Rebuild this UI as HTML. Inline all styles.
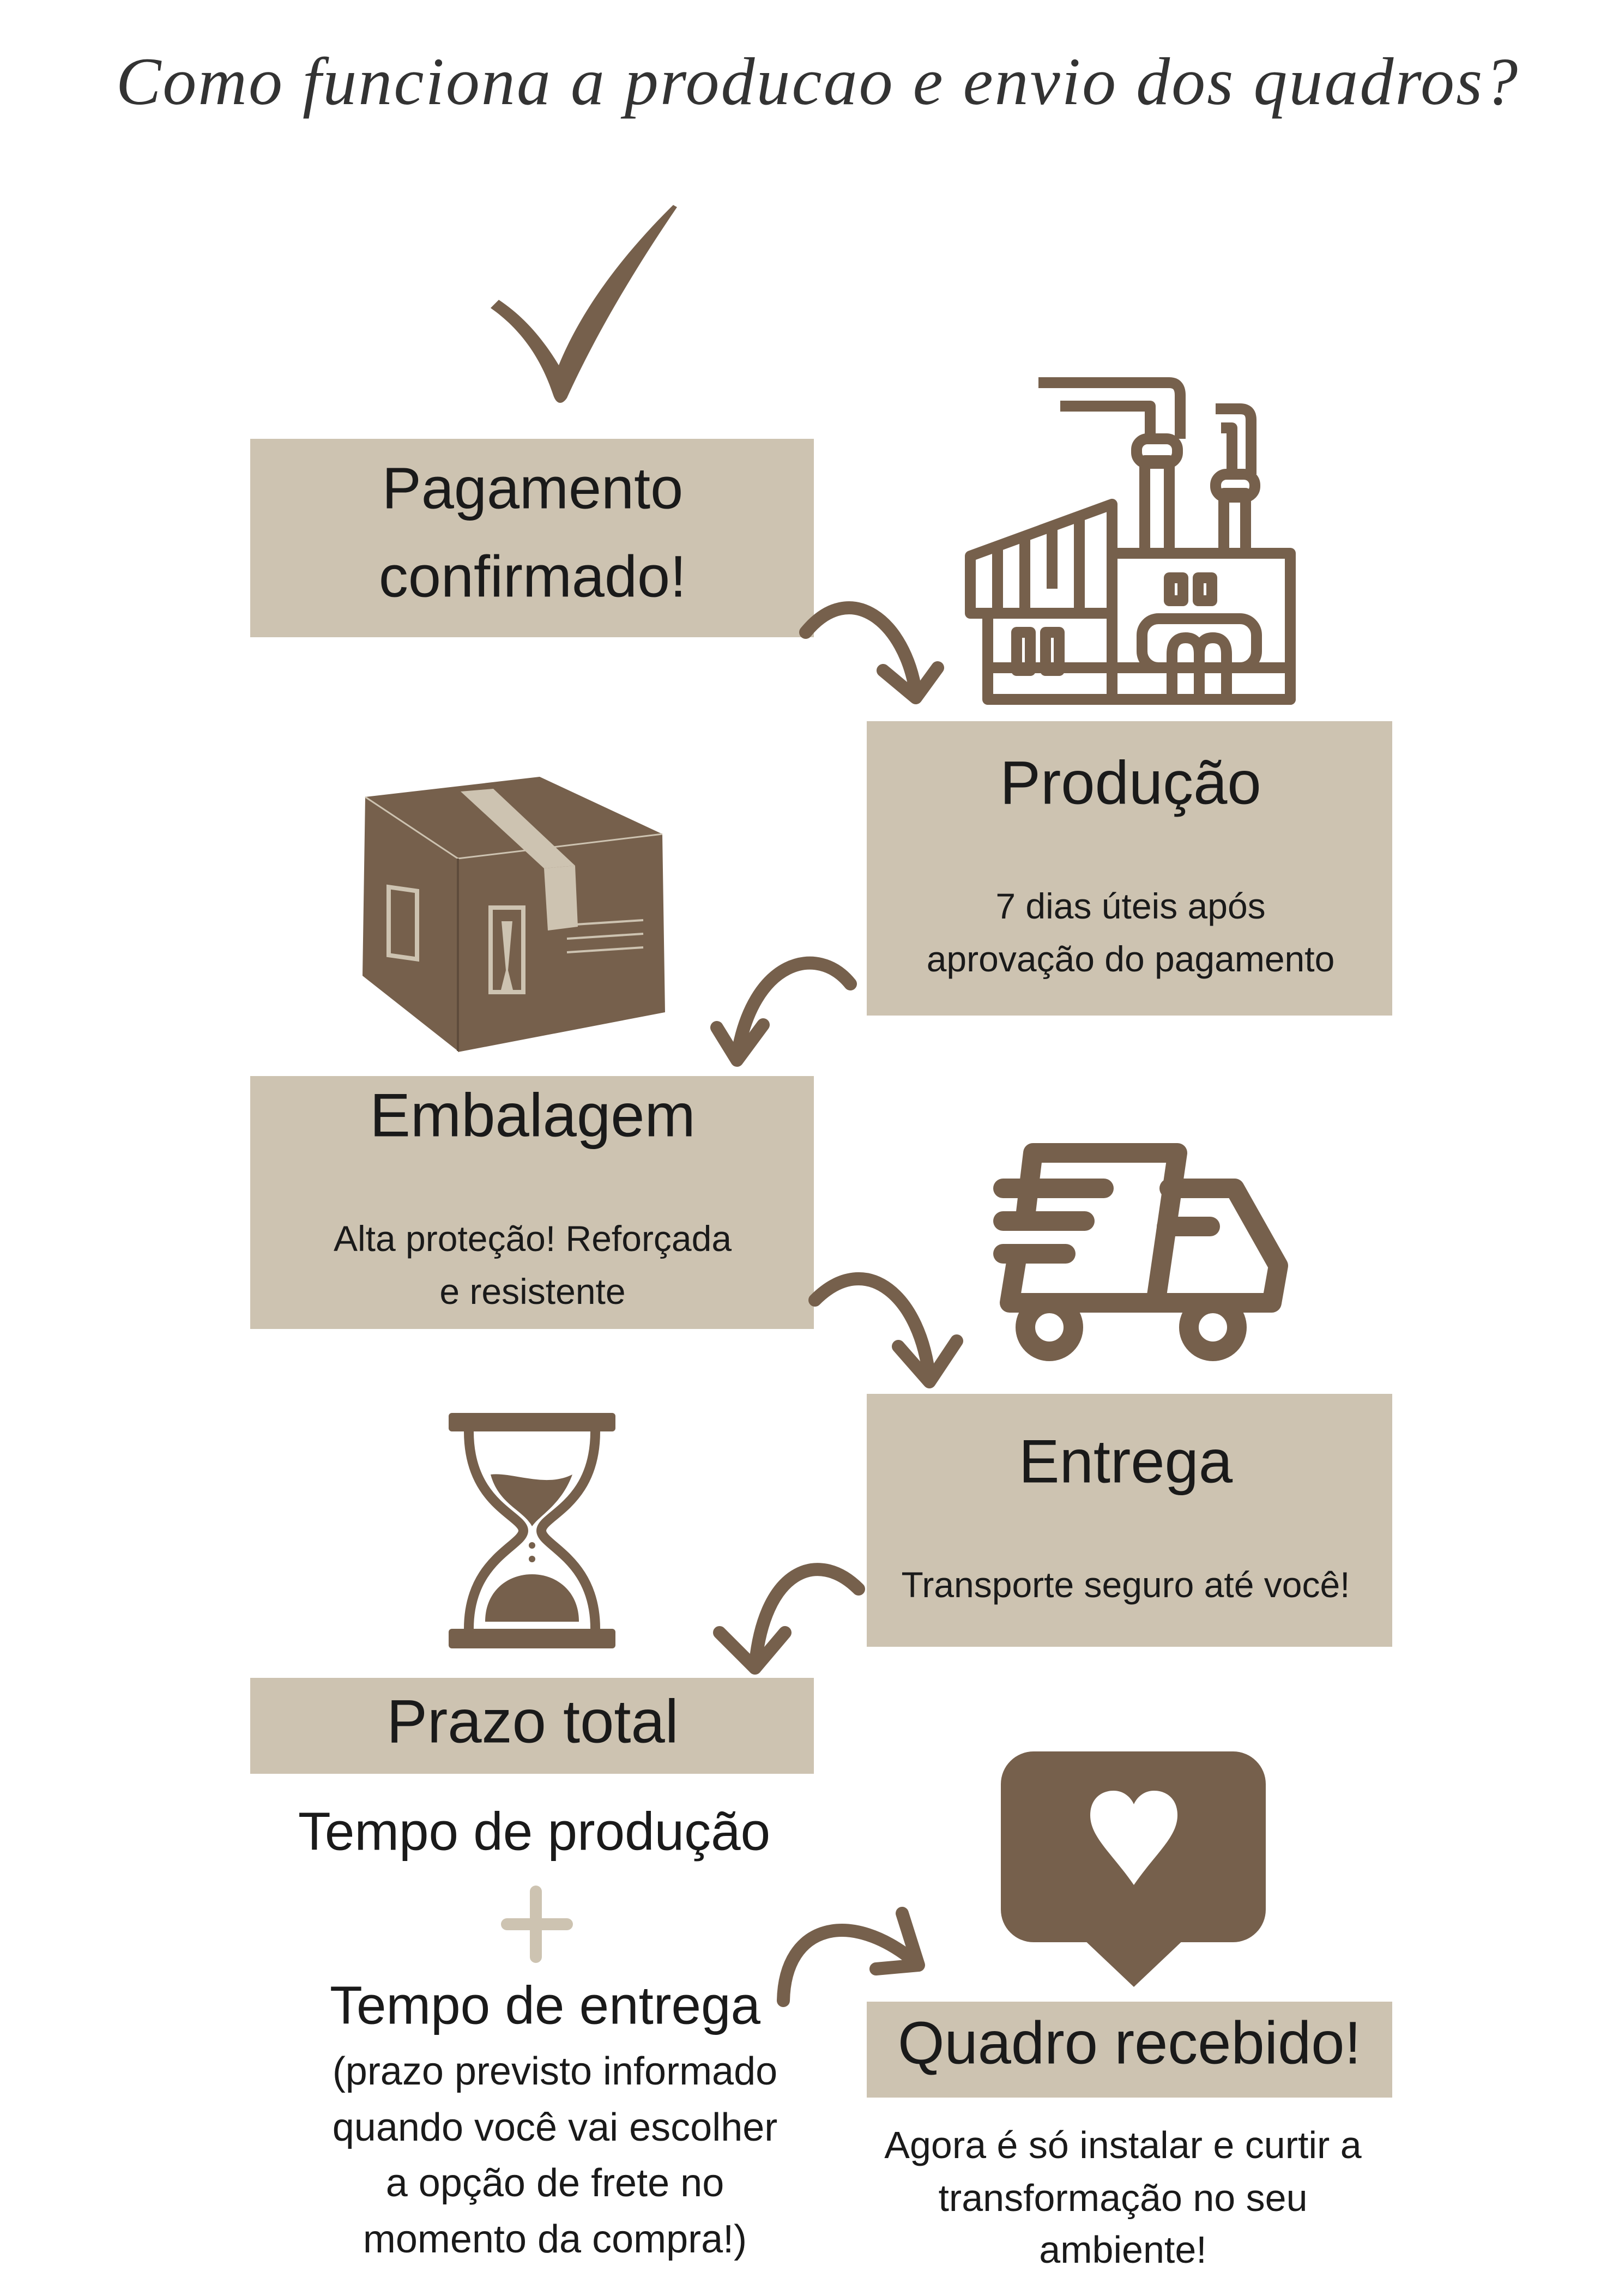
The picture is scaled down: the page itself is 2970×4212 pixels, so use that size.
<!DOCTYPE html>
<html><head><meta charset="utf-8">
<style>
html,body{margin:0;padding:0;background:#fff}
body{width:2970px;height:4212px;position:relative;overflow:hidden;font-family:"Liberation Sans",sans-serif;color:#1a1a1a}
.b{position:absolute;background:#cdc3b1}
.t{position:absolute;text-align:center;white-space:nowrap;transform:translate(-50%,-50%);font-weight:normal;letter-spacing:0px}
svg{position:absolute;left:0;top:0}
</style></head><body>
<div class="b" style="left:459px;top:805px;width:1034px;height:364px"></div>
<div class="b" style="left:1590px;top:1323px;width:964px;height:540px"></div>
<div class="b" style="left:459px;top:1974px;width:1034px;height:464px"></div>
<div class="b" style="left:1590px;top:2557px;width:964px;height:464px"></div>
<div class="b" style="left:459px;top:3078px;width:1034px;height:176px"></div>
<div class="b" style="left:1590px;top:3672px;width:964px;height:176px"></div>

<div class="t" style="left:1500px;top:150px;font-family:'Liberation Serif',serif;font-style:italic;font-size:124px;letter-spacing:3px;color:#333">Como funciona a producao e envio dos quadros?</div>

<div class="t" style="left:977px;top:895px;font-size:108px">Pagamento</div>
<div class="t" style="left:977px;top:1057px;font-size:108px">confirmado!</div>
<div class="t" style="left:2074px;top:1436px;font-size:112px">Produção</div>
<div class="t" style="left:2074px;top:1662px;font-size:66px">7 dias úteis após</div>
<div class="t" style="left:2074px;top:1759px;font-size:66px">aprovação do pagamento</div>
<div class="t" style="left:977px;top:2046px;font-size:112px">Embalagem</div>
<div class="t" style="left:977px;top:2272px;font-size:66px">Alta proteção! Reforçada</div>
<div class="t" style="left:977px;top:2369px;font-size:66px">e resistente</div>
<div class="t" style="left:2065px;top:2681px;font-size:112px">Entrega</div>
<div class="t" style="left:2065px;top:2907px;font-size:66px">Transporte seguro até você!</div>
<div class="t" style="left:977px;top:3158px;font-size:112px">Prazo total</div>
<div class="t" style="left:980px;top:3360px;font-size:98px">Tempo de produção</div>
<div class="t" style="left:1000px;top:3679px;font-size:98px">Tempo de entrega</div>
<div class="t" style="left:1018px;top:3800px;font-size:72px">(prazo previsto informado</div>
<div class="t" style="left:1018px;top:3903px;font-size:72px">quando você vai escolher</div>
<div class="t" style="left:1018px;top:4005px;font-size:72px">a opção de frete no</div>
<div class="t" style="left:1018px;top:4108px;font-size:72px">momento da compra!)</div>
<div class="t" style="left:2072px;top:3748px;font-size:110px">Quadro recebido!</div>
<div class="t" style="left:2060px;top:3935px;font-size:70px">Agora é só instalar e curtir a</div>
<div class="t" style="left:2060px;top:4032px;font-size:70px">transformação no seu</div>
<div class="t" style="left:2060px;top:4127px;font-size:70px">ambiente!</div>

<svg width="2970" height="4212" viewBox="0 0 2970 4212">
<g fill="#76604c" stroke="none">
 <path d="M1242,380 C1160,500 1090,620 1040,730 C1030,745 1020,740 1015,725 C990,650 950,600 900,565 L915,550 C960,580 995,620 1025,670 C1070,560 1150,460 1235,376 Z"/>
</g>
<g stroke="#cdc3b1" stroke-width="22" stroke-linecap="round">
 <line x1="983" y1="3470" x2="983" y2="3590"/><line x1="930" y1="3530" x2="1040" y2="3530"/>
</g>
<g fill="none" stroke="#76604c" stroke-width="24" stroke-linecap="round" stroke-linejoin="round">
 <path d="M1478,1160 C1560,1060 1660,1140 1680,1270"/>
 <path d="M1620,1230 L1680,1280 L1720,1225"/>
 <path d="M1560,1805 C1500,1730 1380,1760 1352,1940"/>
 <path d="M1315,1885 L1352,1945 L1400,1880"/>
 <path d="M1495,2385 C1590,2290 1690,2380 1705,2530"/>
 <path d="M1648,2470 L1705,2535 L1755,2460"/>
 <path d="M1575,2915 C1500,2840 1400,2880 1385,3060"/>
 <path d="M1320,2995 L1385,3060 L1440,2995"/>
 <path d="M1437,3670 C1440,3530 1560,3500 1680,3600"/>
 <path d="M1655,3510 L1685,3605 L1607,3612"/>
</g>
<g fill="none" stroke="#76604c" stroke-width="20" stroke-linejoin="round">
 <rect x="1812" y="1225" width="555" height="58"/>
 <polygon points="1780,1020 2040,925 2040,1225 1812,1225 1812,1125 1780,1125"/>
 <line x1="1780" y1="1125" x2="2040" y2="1125"/>
 <line x1="1830" y1="1005" x2="1830" y2="1125"/><line x1="1880" y1="985" x2="1880" y2="1125"/>
 <line x1="1930" y1="965" x2="1930" y2="1080"/><line x1="1980" y1="948" x2="1980" y2="1125"/>
 <rect x="2040" y="1015" width="327" height="268"/>
 <rect x="2100" y="845" width="45" height="170"/>
 <rect x="2245" y="905" width="40" height="110"/>
 <rect x="2085" y="805" width="75" height="45" rx="20"/>
 <rect x="2230" y="870" width="72" height="42" rx="20"/>
 <path d="M1905,702 L2145,702 Q2165,702 2165,725 L2165,805"/>
 <path d="M1945,745 L2110,745 L2110,805"/>
 <path d="M2230,750 L2275,750 Q2295,750 2295,770 L2295,870"/>
 <path d="M2240,785 L2260,785 L2260,870"/>
 <rect x="2145" y="1060" width="25" height="42"/><rect x="2198" y="1060" width="25" height="42"/>
 <rect x="1865" y="1160" width="25" height="70"/><rect x="1918" y="1160" width="25" height="70"/>
 <rect x="2095" y="1135" width="210" height="90" rx="30"/>
 <path d="M2150,1283 L2150,1200 Q2150,1170 2175,1170 Q2200,1170 2200,1200 L2200,1283"/>
 <path d="M2200,1200 Q2200,1170 2225,1170 Q2250,1170 2250,1200 L2250,1283"/>
</g>
<g>
 <polygon points="670,1462 990,1425 1215,1530 840,1575" fill="#76604c"/>
 <polygon points="670,1462 840,1575 840,1928 665,1790" fill="#76604c"/>
 <polygon points="840,1575 1215,1530 1220,1857 840,1930" fill="#76604c"/>
 <polyline points="670,1462 840,1575 1215,1530" fill="none" stroke="#cdc3b1" stroke-width="3"/>
 <line x1="840" y1="1575" x2="840" y2="1928" stroke="#5e4c3c" stroke-width="4"/>
 <polygon points="845,1452 905,1447 1055,1588 998,1593" fill="#cdc3b1"/>
 <polygon points="998,1593 1055,1588 1060,1700 1005,1707" fill="#cdc3b1"/>
 <rect x="713" y="1627" width="52" height="125" fill="none" stroke="#cdc3b1" stroke-width="8" transform="skewY(8) translate(0,-100)"/>
 <rect x="900" y="1805" width="60" height="155" fill="none" stroke="#cdc3b1" stroke-width="8" transform="translate(0,-140)"/>
 <path d="M920,1690 L940,1690 L932,1780 L942,1820 L918,1820 L928,1780 Z" fill="#cdc3b1"/>
 <g stroke="#cdc3b1" stroke-width="4"><line x1="1040" y1="1697" x2="1180" y2="1688"/><line x1="1040" y1="1722" x2="1180" y2="1713"/><line x1="1040" y1="1747" x2="1180" y2="1738"/></g>
</g>
<g fill="none" stroke="#76604c" stroke-width="36" stroke-linecap="round" stroke-linejoin="round">
 <path d="M1880,2240 L1895,2115 L2160,2115 L2120,2390 L1852,2390 L1865,2310"/>
 <path d="M2145,2180 L2265,2180 L2345,2322 L2333,2390 L2120,2390"/>
 <line x1="1840" y1="2180" x2="2025" y2="2180"/>
 <line x1="1840" y1="2240" x2="1990" y2="2240"/>
 <line x1="1840" y1="2300" x2="1955" y2="2300"/>
 <line x1="2140" y1="2250" x2="2220" y2="2250"/>
 <circle cx="1925" cy="2435" r="44" fill="#fff"/>
 <circle cx="2225" cy="2435" r="44" fill="#fff"/>
</g>
<g>
 <rect x="823" y="2592" width="306" height="34" rx="6" fill="#76604c"/>
 <rect x="823" y="2988" width="306" height="36" rx="6" fill="#76604c"/>
 <path d="M860,2626 C860,2760 960,2780 960,2808 C960,2836 860,2860 860,2988 M1092,2626 C1092,2760 993,2780 993,2808 C993,2836 1092,2860 1092,2988" fill="none" stroke="#76604c" stroke-width="18"/>
 <path d="M900,2705 C940,2700 1000,2730 1050,2705 C1030,2760 990,2780 976,2800 C960,2770 915,2760 900,2705 Z" fill="#76604c"/>
 <circle cx="976" cy="2835" r="6" fill="#76604c"/><circle cx="976" cy="2860" r="6" fill="#76604c"/>
 <path d="M890,2975 C890,2920 930,2888 976,2888 C1022,2888 1062,2920 1062,2975 Z" fill="#76604c"/>
</g>
<g>
 <rect x="1836" y="3213" width="486" height="350" rx="60" fill="#76604c"/>
 <polygon points="1985,3555 2175,3555 2080,3645" fill="#76604c"/>
 <path d="M2080,3458 C2040,3400 2000,3370 2000,3330 C2000,3300 2020,3285 2043,3285 C2062,3285 2075,3298 2080,3310 C2085,3298 2098,3285 2117,3285 C2140,3285 2160,3300 2160,3330 C2160,3370 2120,3400 2080,3458 Z" fill="#fff"/>
</g>
</svg>
</body></html>
